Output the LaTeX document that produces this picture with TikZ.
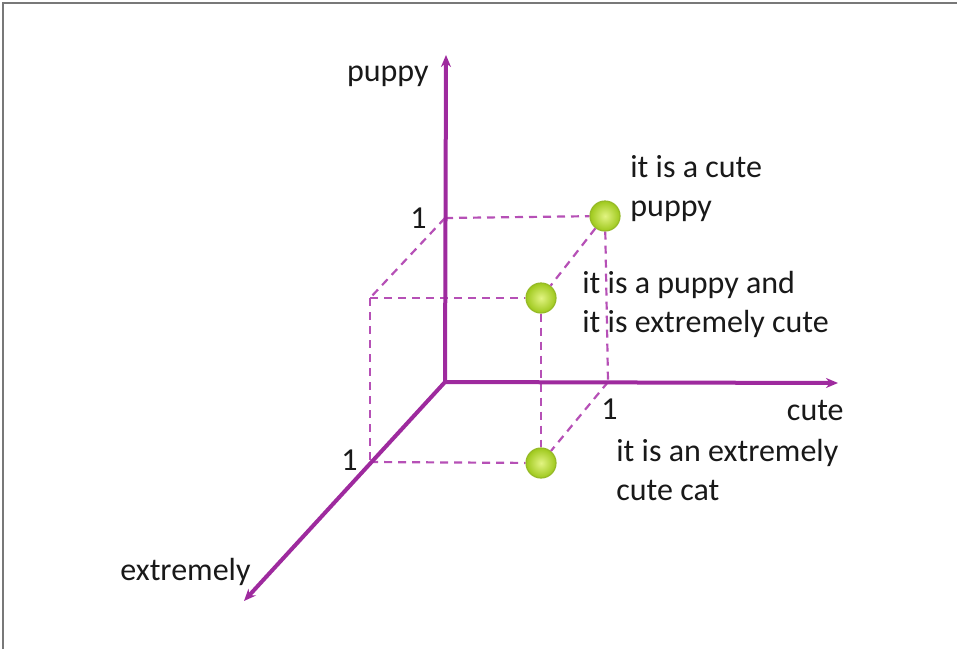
\documentclass[tikz,border=0pt]{standalone}
\usepackage{fontspec}
\setmainfont{Carlito}
\usepackage{tikz}
\usetikzlibrary{arrows.meta, positioning}
\definecolor{axispurple}{RGB}{158,42,158}
\definecolor{dashpurple}{RGB}{182,80,182}
\definecolor{ballinner}{RGB}{226,244,130}
\definecolor{ballouter}{RGB}{158,200,28}
\definecolor{ballrim}{RGB}{150,186,40}
\definecolor{framegray}{RGB}{120,120,120}
\tikzset{
  axis/.style={-{Stealth[length=6pt, width=5pt]}, line width=2pt, color=axispurple},
  guide/.style={dashpurple, line width=1.1pt, dash pattern=on 4pt off 3pt},
  ball/.style={circle, minimum size=15pt, inner sep=0pt, draw=ballrim, line width=0.6pt,
               inner color=ballinner, outer color=ballouter},
  lbl/.style={inner sep=0pt, font=\fontsize{16pt}{19.5pt}\selectfont, align=left,
              anchor=base west, text=black!90}
}
\begin{document}
\begin{tikzpicture}[x=0.5pt, y=-0.5pt]
  \useasboundingbox (0,0) rectangle (957,649);

  %% -- Frame ---------------------------------------------------------------
  \draw[framegray, line width=0.8pt] (3,649) -- (3,3) -- (957,3);

  %% -- Axes ----------------------------------------------------------------
  \coordinate (O)    at (445,382);
  \coordinate (ytip) at (446,55);
  \coordinate (xtip) at (838,383);
  \coordinate (ztip) at (244,601);

  \coordinate (y1) at (445,218);
  \coordinate (x1) at (608,382);
  \coordinate (z1) at (370,462);
  \coordinate (yz) at (370,298);

  %% -- Points --------------------------------------------------------------
  \node[ball] (cutepuppy) at (605,216) {};
  \node[ball] (puppyext)  at (541,298) {};
  \node[ball] (cutecat)   at (541,463) {};

  %% -- Dashed guides -------------------------------------------------------
  \draw[guide] (y1) -- (cutepuppy);
  \draw[guide] (y1) -- (yz);
  \draw[guide] (yz) -- (puppyext);
  \draw[guide] (yz) -- (z1);
  \draw[guide] (z1) -- (cutecat);
  \draw[guide] (cutepuppy) -- (x1);
  \draw[guide] (cutepuppy) -- (puppyext);
  \draw[guide] (x1) -- (cutecat);
  \draw[guide] (puppyext) -- (cutecat);

  \draw[axis] (O) -- (ytip);
  \draw[axis] (O) -- (xtip);
  \draw[axis] (O) -- (ztip);

  %% -- Labels --------------------------------------------------------------
  \node[lbl, anchor=base east] (puppylbl) at (429,81) {puppy};
  \node[lbl, anchor=base east] (cutelbl)  at (844,420) {cute};
  \node[lbl] (extlbl) at (120,580) {extremely};

  \node[lbl, anchor=base east] (ytick) at (427,228) {1};
  \node[lbl] (xtick) at (601,419) {1};
  \node[lbl, anchor=base east] (ztick) at (358,470) {1};

  \node[lbl] (cutepuppylbl) at (630,216) {it is a cute\\puppy};
  \node[lbl] (puppyextlbl)  at (582,332) {it is a puppy and\\it is extremely cute};
  \node[lbl] (cutecatlbl)   at (616,500) {it is an extremely\\cute cat};

\end{tikzpicture}
\end{document}
